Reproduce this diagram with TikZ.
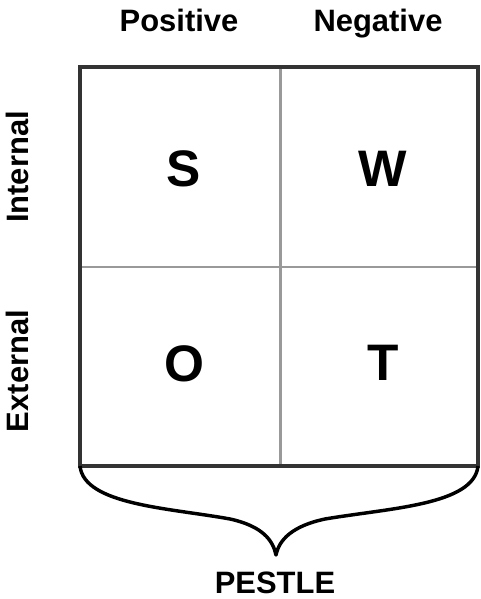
\documentclass[tikz,border=0pt]{standalone}
\usepackage{fontspec}
\setmainfont{Liberation Sans}
\usepackage{tikz}

\begin{document}
\begin{tikzpicture}[x=0.75pt,y=-0.75pt,
    heading/.style={anchor=base,font=\bfseries\fontsize{23.2}{24}\selectfont},
    letter/.style={anchor=base,font=\bfseries\fontsize{38.5}{40}\selectfont},
    frame/.style={draw=black!80,line width=2.5pt},
    divider/.style={draw=black!40,line width=1.8pt}]
      \useasboundingbox (0,0) rectangle (481,599);
      % corners of the grid
      \coordinate (tl) at (80,67);
      \coordinate (tr) at (478,67);
      \coordinate (bl) at (80,466);
      \coordinate (br) at (478,466);
      \coordinate (tip) at (276,555);
      % dividers, then the frame on top
      \draw[divider] (280.5,67) -- (280.5,466);
      \draw[divider] (80,267) -- (478,267);
      \draw[frame] (tl) rectangle (br);
      % headings
      \node[heading] (pos) at (179,32) {Positive};
      \node[heading] (neg) at (378,32) {Negative};
      \node[heading,rotate=90] (int) at (28,167) {Internal};
      \node[heading,rotate=90] (ext) at (28,371) {External};
      % quadrants
      \node[letter] (s) at (184,186) {S};
      \node[letter] (w) at (383,186) {W};
      \node[letter] (o) at (184,381) {O};
      \node[letter] (t) at (383,380.5) {T};
      % brace under the grid
      \draw[line width=2.6pt,line join=round] (bl)
        .. controls (84,505) and (170,508) .. (230,519)
        .. controls (262,526) and (273,540) .. (tip)
        .. controls (279,540) and (292,526) .. (325,519)
        .. controls (390,508) and (474,505) .. (br);
      \node[heading] (pestle) at (275,593) {PESTLE};
    \end{tikzpicture}
\end{document}
